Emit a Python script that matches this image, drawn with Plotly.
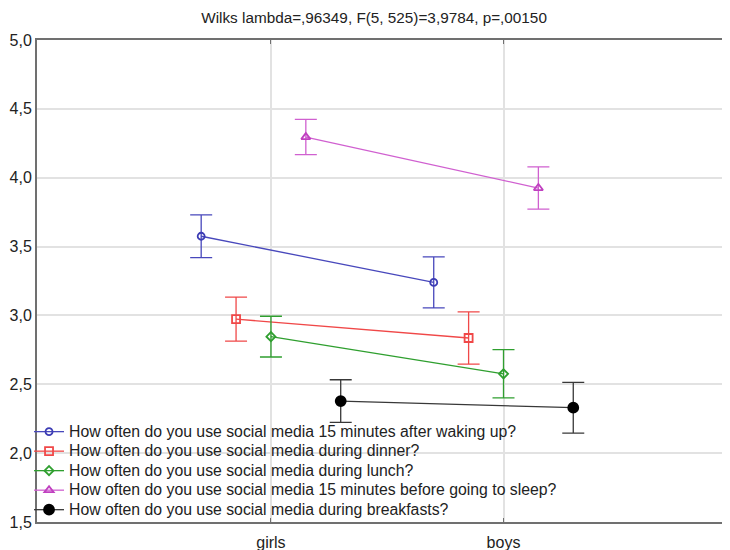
import plotly.graph_objects as go

categories = ["girls", "boys"]
series_names = [
    "How often do you use social media 15 minutes after waking up?",
    "How often do you use social media during dinner?",
    "How often do you use social media during lunch?",
    "How often do you use social media 15 minutes before going to sleep?",
    "How often do you use social media during breakfasts?",
]
means = [
    [3.575, 3.240],
    [2.973, 2.836],
    [2.846, 2.576],
    [4.295, 3.925],
    [2.378, 2.330],
]
ci_halfwidth = [
    [0.155, 0.185],
    [0.160, 0.190],
    [0.148, 0.175],
    [0.128, 0.153],
    [0.155, 0.184],
]
title_text = "Wilks lambda=,96349, F(5, 525)=3,9784, p=,00150"

colors = ["#3c3cb4", "#f04848", "#2f9f2f", "#c040c0", "#000000"]
line_colors = ["#4848bc", "#f04848", "#2f9f2f", "#d060d0", "#383838"]
symbols = ["circle-open", "square-open", "diamond-open", "triangle-up-open", "circle"]
marker_sizes = [7, 8, 7, 8, 10]

FONT = "Arial, Liberation Sans, sans-serif"
TXT = "#222222"
LEGEND_TEXT_PX = 15.8   # rendered size of legend text
LEGEND_ROW_FONT = 12.7  # sets the (tighter) legend row spacing

fig = go.Figure()
for name, m, e, c, lc, s, ms in zip(series_names, means, ci_halfwidth, colors, line_colors, symbols, marker_sizes):
    fig.add_trace(go.Scatter(
        x=categories, y=m, mode="lines+markers",
        name=f'<span style="font-size:{LEGEND_TEXT_PX}px">{name}</span>',
        hovertemplate=name + "<br>%{x}: %{y:.3f}<extra></extra>",
        line=dict(color=lc, width=1.3),
        marker=dict(color=c, symbol=s, size=ms, line=dict(color=c, width=1.8)),
        error_y=dict(type="data", array=e, visible=True, color=lc, thickness=1.3, width=11),
        offsetgroup=name,
    ))

# page has an 8px body margin: figure sized to fit the 730x550 window
fig.update_layout(
    width=722, height=542,
    margin=dict(l=29, r=0, t=32, b=28),
    paper_bgcolor="white", plot_bgcolor="white",
    separators=",.",
    scattermode="group", scattergap=0.25,
    font=dict(family=FONT, size=16, color=TXT),
    title=dict(text=title_text, x=0.507, xanchor="center", y=0.9815, yanchor="middle",
               font=dict(family=FONT, size=15.3, color=TXT)),
    showlegend=True,
    legend=dict(x=-0.0115, xanchor="left", y=-0.006, yanchor="bottom",
                bgcolor="rgba(0,0,0,0)", borderwidth=0,
                font=dict(family=FONT, size=LEGEND_ROW_FONT, color=TXT),
                tracegroupgap=0),
)
fig.update_xaxes(
    type="category", range=[-1.006, 1.974],
    showgrid=True, gridcolor="#e2e2e2", gridwidth=1.5,
    showline=True, linecolor="#707070", linewidth=2, mirror="ticks",
    ticks="inside", ticklen=4, tickcolor="#707070",
    ticklabelstandoff=5,
    tickfont=dict(family=FONT, size=16, color=TXT),
    zeroline=False,
)
fig.update_yaxes(
    range=[1.5, 5.0], tickvals=[1.5, 2.0, 2.5, 3.0, 3.5, 4.0, 4.5, 5.0], tickformat=".1f",
    showgrid=True, gridcolor="#e2e2e2", gridwidth=1.5,
    showline=True, linecolor="#707070", linewidth=2,
    ticks="", tickfont=dict(family=FONT, size=16, color=TXT),
    zeroline=False,
)

fig.write_html("out.html")
